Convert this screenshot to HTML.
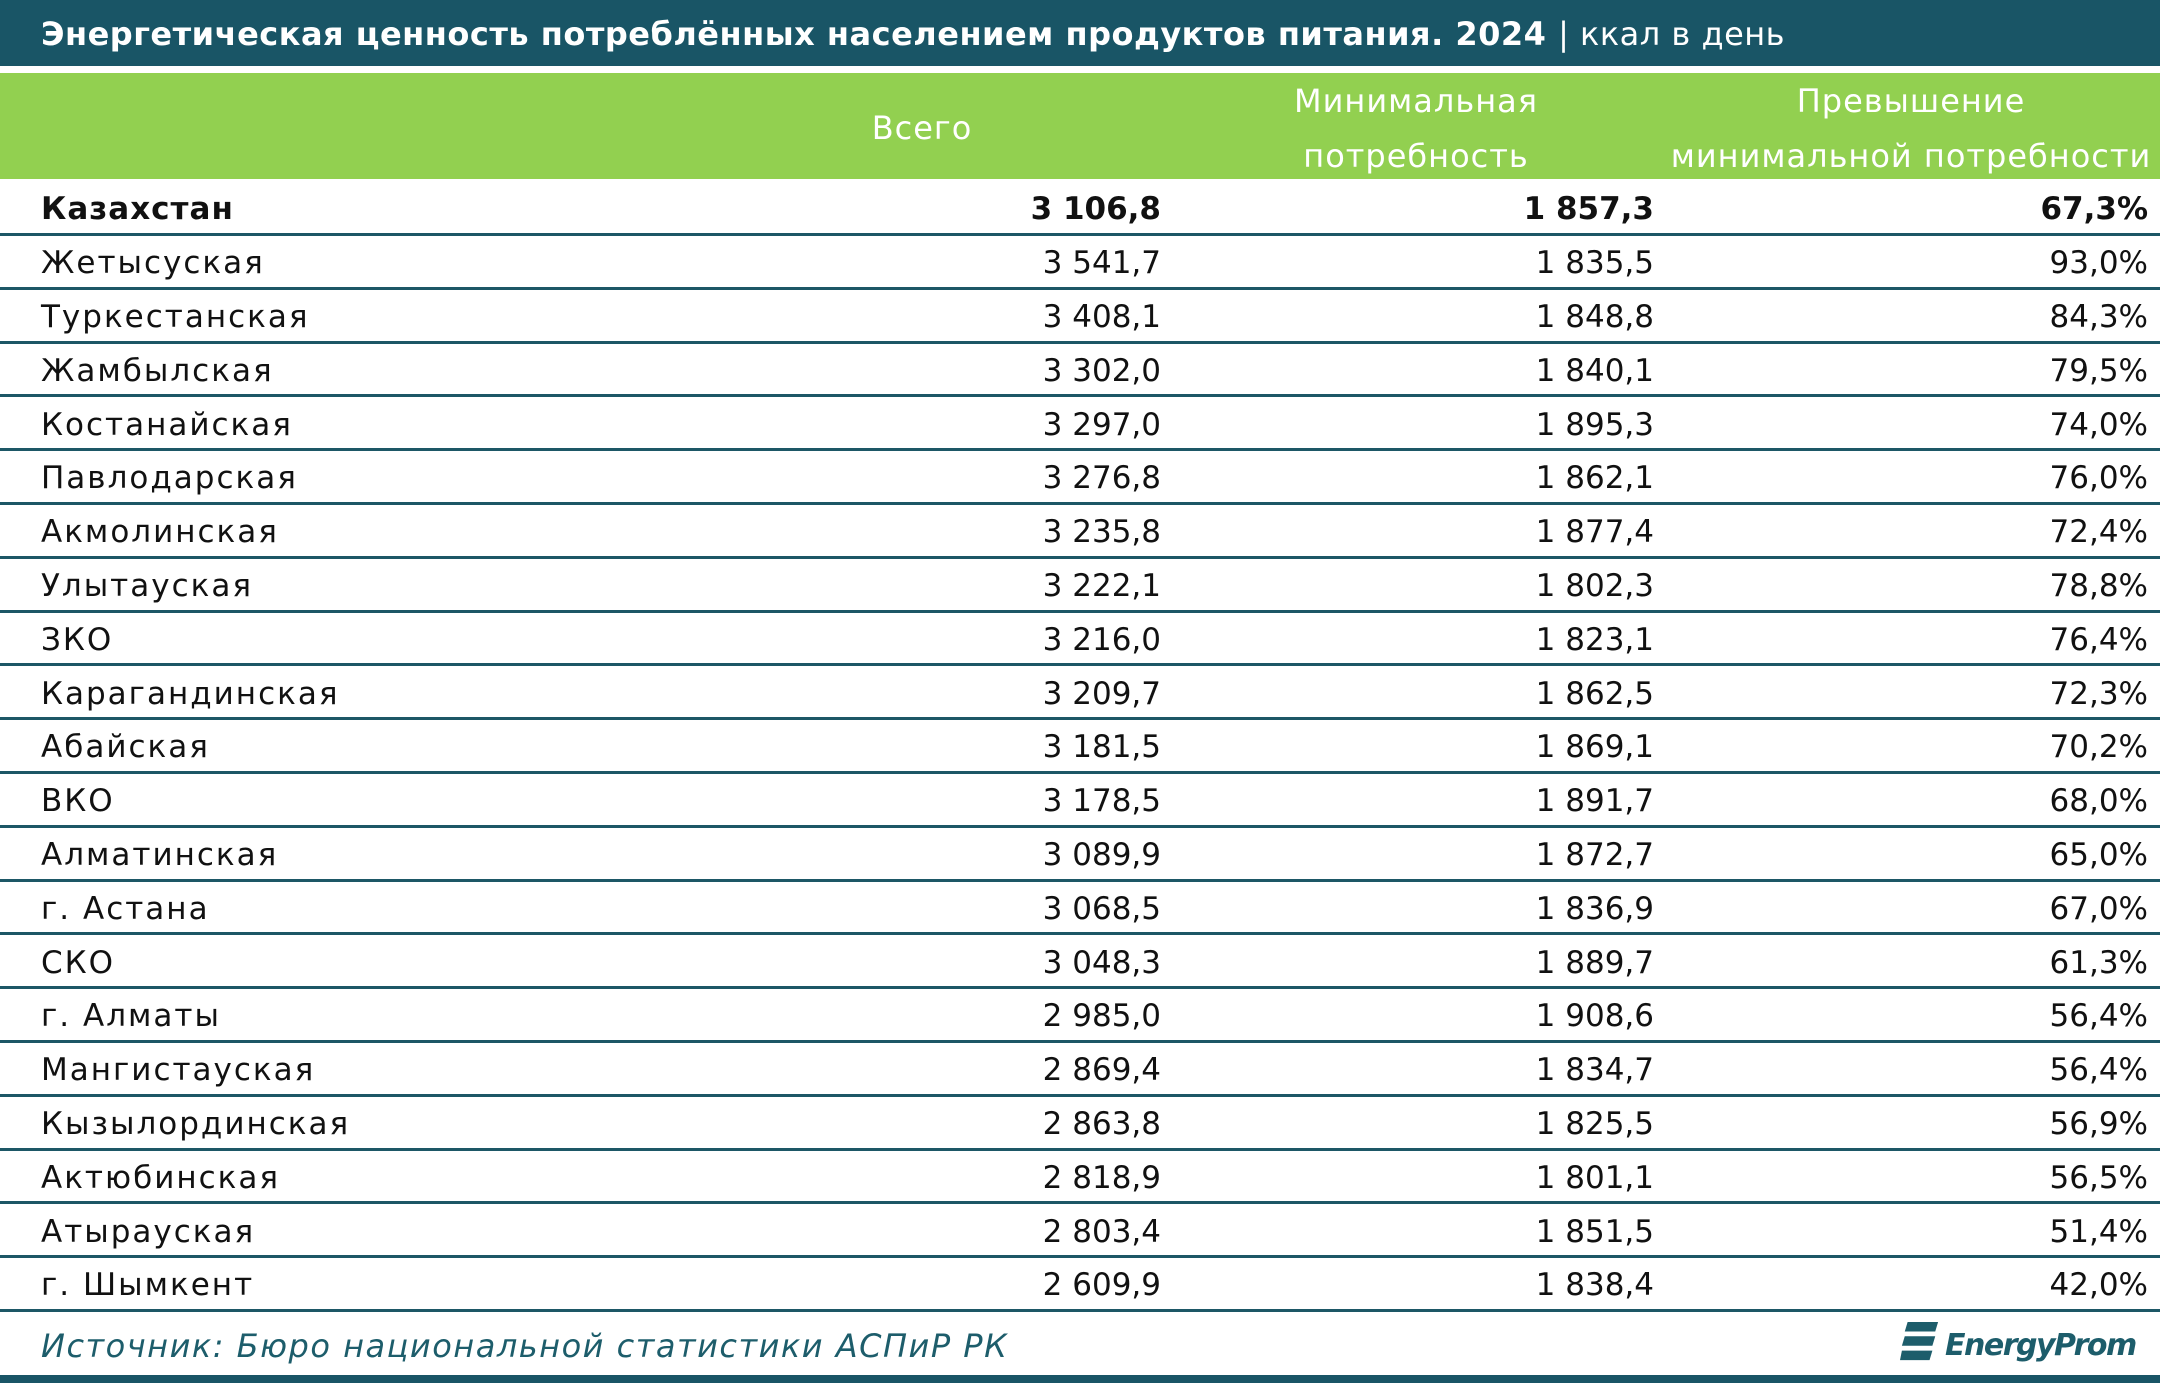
<!DOCTYPE html>
<html><head><meta charset="utf-8"><style>
body{margin:0;width:2160px;height:1383px;position:relative;background:#fff;overflow:hidden;font-family:"DejaVu Sans","Liberation Sans",sans-serif;color:#111}
.a{position:absolute;white-space:nowrap}
.ln{position:absolute;left:0;width:2160px;height:3px;background:#1d5766}
.r{position:absolute;height:54px;line-height:54px;font-size:31px;left:0;width:2160px}
.r span{position:absolute}
.n{left:41px;letter-spacing:2px}.c1{right:999px}.c2{right:506px}.c3{right:12px}
.h{font-size:32px;color:#fff;line-height:40px;text-align:center;letter-spacing:1px}
</style></head><body>
<div class="a" style="left:0;top:0;width:2160px;height:66px;background:#195566"></div>
<div class="a" style="left:41px;top:14px;font-size:32px;font-weight:bold;color:#fff;line-height:40px;letter-spacing:0.5px">Энергетическая ценность потреблённых населением продуктов питания. 2024 <span style="font-weight:normal">| ккал в день</span></div>
<div class="a" style="left:0;top:73px;width:2160px;height:106px;background:#92d050"></div>
<div class="a h" style="left:822px;width:200px;top:108px">Всего</div>
<div class="a h" style="left:1216px;width:400px;top:81px">Минимальная</div>
<div class="a h" style="left:1216px;width:400px;top:136px">потребность</div>
<div class="a h" style="left:1661px;width:500px;top:81px">Превышение</div>
<div class="a h" style="left:1661px;width:500px;top:136px">минимальной потребности</div>
<div id="rows"></div>
<div class="a" style="left:41px;top:1326px;font-size:32px;font-style:italic;color:#1d5d6b;line-height:40px;letter-spacing:1.5px">Источник: Бюро национальной статистики АСПиР РК</div>
<svg class="a" style="left:1900px;top:1320px" width="40" height="44" viewBox="0 0 42 46"><g fill="#1d5d6b"><path d="M8 2h32l-3 10H5z"/><path d="M5 17h32l-3 10H2z"/><path d="M2 32h32l-3 10H0z"/></g></svg>
<div class="a" style="left:1945px;top:1324px;font-size:30px;font-style:italic;font-weight:bold;color:#1d5d6b;line-height:44px;letter-spacing:-1.5px">EnergyProm</div>
<div class="a" style="left:0;top:1375px;width:2160px;height:8px;background:#195566"></div>
<script>
var d=[["Казахстан","3 106,8","1 857,3","67,3%"],["Жетысуская","3 541,7","1 835,5","93,0%"],["Туркестанская","3 408,1","1 848,8","84,3%"],["Жамбылская","3 302,0","1 840,1","79,5%"],["Костанайская","3 297,0","1 895,3","74,0%"],["Павлодарская","3 276,8","1 862,1","76,0%"],["Акмолинская","3 235,8","1 877,4","72,4%"],["Улытауская","3 222,1","1 802,3","78,8%"],["ЗКО","3 216,0","1 823,1","76,4%"],["Карагандинская","3 209,7","1 862,5","72,3%"],["Абайская","3 181,5","1 869,1","70,2%"],["ВКО","3 178,5","1 891,7","68,0%"],["Алматинская","3 089,9","1 872,7","65,0%"],["г. Астана","3 068,5","1 836,9","67,0%"],["СКО","3 048,3","1 889,7","61,3%"],["г. Алматы","2 985,0","1 908,6","56,4%"],["Мангистауская","2 869,4","1 834,7","56,4%"],["Кызылординская","2 863,8","1 825,5","56,9%"],["Актюбинская","2 818,9","1 801,1","56,5%"],["Атырауская","2 803,4","1 851,5","51,4%"],["г. Шымкент","2 609,9","1 838,4","42,0%"]];
var h="";
for(var i=0;i<d.length;i++){var y=182.4+53.8*i;
h+='<div class="r" style="top:'+y+'px;'+(i==0?'font-weight:bold':'')+'"><span class="n"'+(i==0?' style="letter-spacing:1px"':'')+'>'+d[i][0]+'</span><span class="c1">'+d[i][1]+'</span><span class="c2">'+d[i][2]+'</span><span class="c3">'+d[i][3]+'</span></div>';
h+='<div class="ln" style="top:'+(233+53.8*i)+'px"></div>';}
document.getElementById("rows").innerHTML=h;
</script>
</body></html>
